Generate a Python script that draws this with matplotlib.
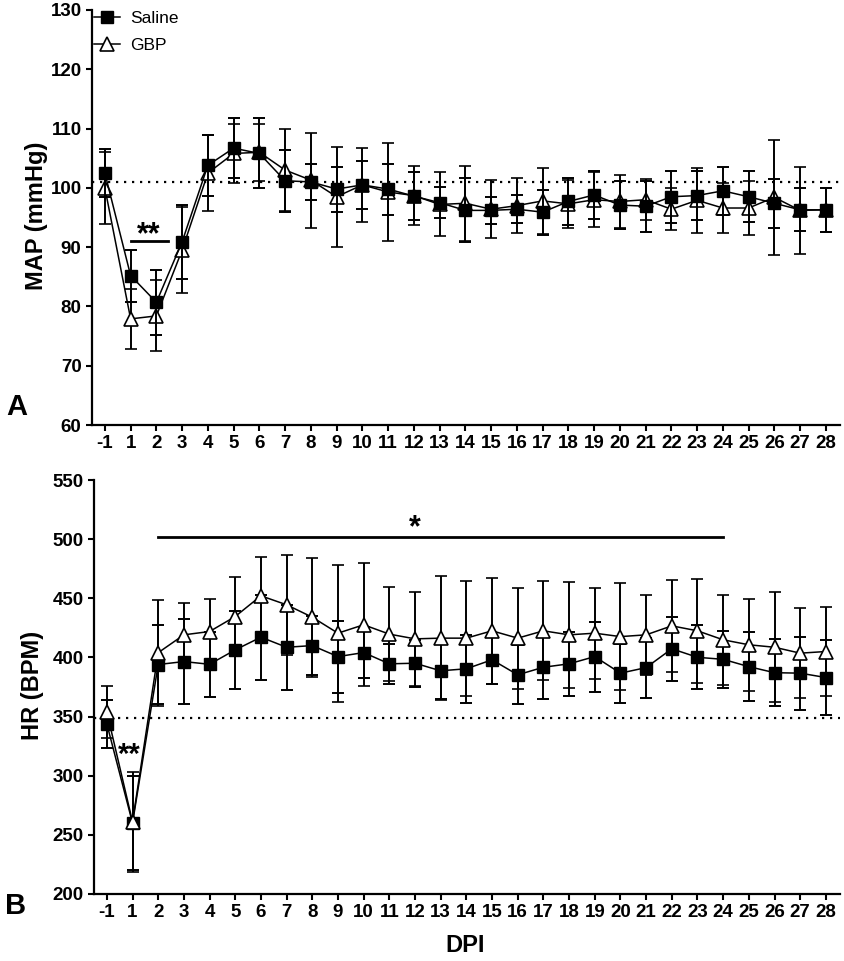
import matplotlib
matplotlib.use("Agg")
import matplotlib.pyplot as plt
from matplotlib.lines import Line2D
import numpy as np

plt.rcParams['font.family'] = ['Liberation Sans', 'DejaVu Sans']

days = ['-1', '1', '2', '3', '4', '5', '6', '7', '8', '9', '10', '11', '12', '13', '14',
        '15', '16', '17', '18', '19', '20', '21', '22', '23', '24', '25', '26', '27', '28']

map_saline = [102.5, 85.2, 80.7, 90.9, 103.8, 106.7, 105.8, 101.2, 101.0, 99.8, 100.5, 99.8,
              98.6, 97.5, 96.2, 96.2, 96.4, 95.9, 97.7, 98.8, 97.1, 96.9, 98.5, 98.7, 99.5,
              98.5, 97.4, 96.3, 96.3]
map_saline_sd = [4.0, 4.4, 5.5, 6.2, 5.2, 5.0, 5.9, 5.2, 3.0, 3.8, 4.1, 4.3, 4.1, 2.6, 5.4,
                 2.3, 2.4, 3.8, 4.0, 4.0, 4.0, 4.3, 4.4, 4.2, 4.1, 4.3, 4.1, 3.6, 3.7]
map_gbp = [100.0, 77.9, 78.4, 89.5, 102.5, 105.8, 106.0, 103.0, 101.3, 98.5, 100.5, 99.3,
           98.7, 97.2, 97.4, 96.4, 97.0, 97.8, 97.3, 98.0, 97.7, 98.0, 96.4, 97.9, 96.6,
           96.6, 98.4, 96.2, 96.3]
map_gbp_sd = [6.1, 5.0, 6.0, 7.3, 6.4, 5.0, 4.8, 6.9, 8.0, 8.4, 6.3, 8.3, 5.0, 5.4, 6.3,
              4.9, 4.6, 5.6, 4.0, 4.6, 4.5, 3.5, 3.5, 5.5, 4.2, 4.5, 9.7, 7.3, 3.7]

hr_saline = [343.8, 260.0, 394.0, 396.5, 394.2, 406.4, 417.1, 408.6, 410.0, 400.7, 404.1,
             394.6, 395.1, 388.7, 390.4, 398.0, 385.3, 391.7, 394.6, 400.7, 386.7, 391.4,
             407.3, 400.1, 398.4, 392.2, 387.1, 386.7, 383.0]
hr_saline_sd = [20.5, 40.0, 33.0, 35.8, 27.4, 33.0, 36.0, 36.0, 24.7, 30.4, 21.7, 17.0, 20.0,
                24.0, 28.6, 20.3, 25.0, 26.8, 27.0, 29.6, 24.9, 25.4, 27.0, 27.0, 24.0, 29.4,
                28.3, 30.9, 31.9]
hr_gbp = [353.9, 261.0, 404.0, 419.1, 421.9, 434.6, 452.1, 444.5, 434.0, 420.5, 427.6, 419.7,
          415.7, 416.3, 416.3, 422.5, 416.3, 422.5, 419.1, 420.5, 417.6, 419.1, 426.7, 422.5,
          414.9, 410.7, 408.6, 403.6, 405.0]
hr_gbp_sd = [22.3, 42.0, 44.7, 27.3, 27.7, 33.2, 32.7, 42.3, 50.4, 57.8, 52.0, 40.0, 39.8,
             52.7, 48.5, 45.0, 42.8, 41.7, 45.0, 38.6, 45.2, 33.8, 38.9, 44.0, 38.3, 39.0,
             46.3, 38.0, 38.0]

map_baseline = 101
hr_baseline = 349

x = np.arange(len(days))

W, H = 844, 961
fig = plt.figure(figsize=(W / 100, H / 100), dpi=100)

def px_axes(left, top, right, bottom):
    return fig.add_axes([left / W, 1 - bottom / H, (right - left) / W, (bottom - top) / H])

axA = px_axes(92, 10, 840, 425)
axB = px_axes(94, 480, 840, 894)

ms_sq = 9
ms_tri = 10
cap = 4.6

def draw_series(ax, y, sd, kind, z):
    if kind == 'saline':
        ax.errorbar(x, y, yerr=sd, fmt='-s', color='black', mfc='black', mec='black',
                    ms=ms_sq, lw=1.1, elinewidth=1.4, capsize=cap, capthick=1.4, zorder=z)
    else:
        ax.errorbar(x, y, yerr=sd, fmt='-^', color='black', mfc='white', mec='black',
                    mew=1.2, ms=ms_tri, lw=1.1, elinewidth=1.4, capsize=cap, capthick=1.4,
                    zorder=z)

# Panel A
draw_series(axA, map_gbp, map_gbp_sd, 'gbp', 3)
draw_series(axA, map_saline, map_saline_sd, 'saline', 4)
axA.axhline(map_baseline, color='black', lw=1.6, ls=(0, (1, 2.6)), zorder=1)
axA.plot([1, 2.45], [91, 91], color='black', lw=2)
axA.text(1.72, 92.0, '**', ha='center', va='center', fontsize=22, fontweight='bold')
axA.set_ylim(60, 130)
axA.set_yticks(np.arange(60, 131, 10))

# Panel B
draw_series(axB, hr_saline, hr_saline_sd, 'saline', 3)
draw_series(axB, hr_gbp, hr_gbp_sd, 'gbp', 4)
axB.axhline(hr_baseline, color='black', lw=1.6, ls=(0, (1, 2.6)), zorder=1)
axB.plot([2, 24], [502, 502], color='black', lw=2)
axB.text(12, 509.6, '*', ha='center', va='center', fontsize=22, fontweight='bold')
axB.text(0.88, 317.6, '**', ha='center', va='center', fontsize=21, fontweight='bold')
axB.set_ylim(200, 550)
axB.set_yticks(np.arange(200, 551, 50))

for ax in (axA, axB):
    ax.set_xlim(-0.5, 28.55)
    ax.set_xticks(x)
    ax.set_xticklabels(days)
    for s in ('top', 'right'):
        ax.spines[s].set_visible(False)
    for s in ('left', 'bottom'):
        ax.spines[s].set_linewidth(1.6)
    ax.tick_params(axis='both', direction='out', length=4.5, width=1.5, labelsize=13.5, pad=3)
    for lab in ax.get_xticklabels() + ax.get_yticklabels():
        lab.set_fontweight('bold')

handles = [Line2D([], [], color='black', marker='s', ms=ms_sq, lw=1.1, mfc='black'),
           Line2D([], [], color='black', marker='^', ms=ms_tri, lw=1.1, mfc='white', mew=1.2)]
axA.legend(handles, ['Saline', 'GBP'], loc='upper left', bbox_to_anchor=(0.0, 1.003),
           frameon=False, fontsize=12.5, handlelength=1.5, handletextpad=0.6,
           labelspacing=0.68, borderaxespad=0, borderpad=0.1)

fig.text(37 / W, 1 - 216 / H, 'MAP (mmHg)', rotation=90, ha='center', va='center',
         fontsize=17, fontweight='bold')
fig.text(33 / W, 1 - 685 / H, 'HR (BPM)', rotation=90, ha='center', va='center',
         fontsize=17, fontweight='bold')
fig.text(465 / W, 1 - 945 / H, 'DPI', ha='center', va='center', fontsize=17, fontweight='bold')
fig.text(17 / W, 1 - 407 / H, 'A', ha='center', va='center', fontsize=21, fontweight='bold')
fig.text(16 / W, 1 - 906 / H, 'B', ha='center', va='center', fontsize=21, fontweight='bold')

fig.savefig('out.png', dpi=100)
